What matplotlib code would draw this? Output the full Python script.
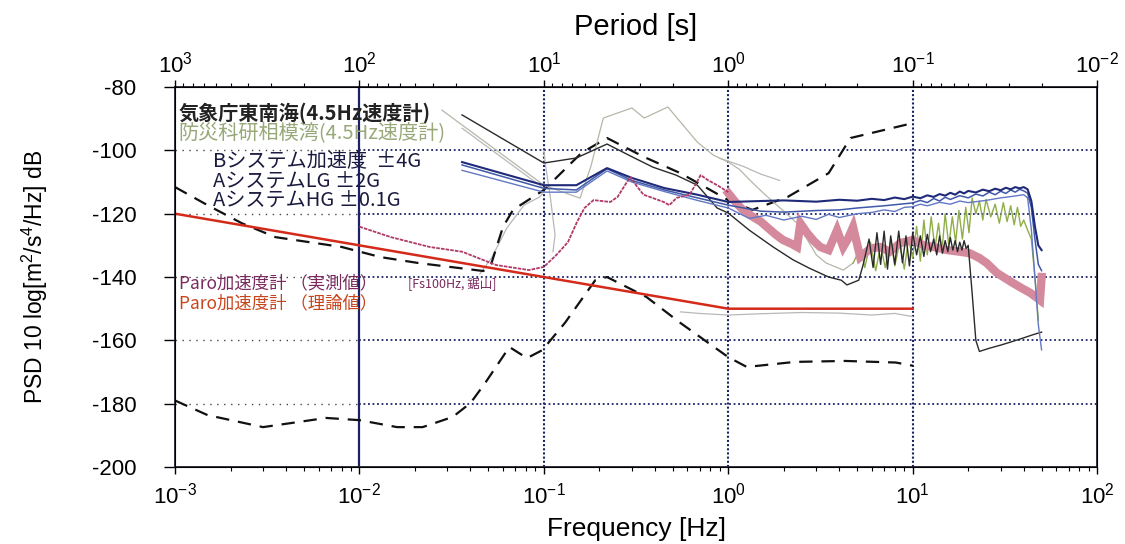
import matplotlib
matplotlib.use("Agg")
import matplotlib.pyplot as plt

plt.rcParams['font.family'] = ['Liberation Sans', 'DejaVu Sans']
plt.rcParams['mathtext.fontset'] = 'custom'
plt.rcParams['mathtext.rm'] = 'Liberation Sans'
plt.rcParams['mathtext.it'] = 'Liberation Sans:italic'
plt.rcParams['mathtext.bf'] = 'Liberation Sans:bold'
plt.rcParams['axes.unicode_minus'] = False
JP = ['Noto Sans CJK JP', 'DejaVu Sans']

# ---- data (frequency [Hz], PSD [dB]) ----
# Paro theory (red)
paro_th_f = [0.001, 0.01, 0.1, 1.0, 10.0]
paro_th_db = [-120, -130, -140, -150, -150]

# Paro measured, low band (thin line)
paro_f = [0.01, 0.0148, 0.024, 0.036, 0.055, 0.083, 0.1, 0.117, 0.135, 0.151, 0.166,
          0.186, 0.229, 0.251, 0.282, 0.295, 0.316, 0.347, 0.447, 0.479, 0.525, 0.617,
          0.676, 0.708, 0.776, 0.871, 1.0]
paro_db = [-124.1, -127.4, -130.5, -132.0, -136.2, -137.8, -136.8, -133.0, -129.0, -122.7,
           -118.2, -115.7, -116.3, -114.7, -110.0, -108.4, -111.0, -114.0, -116.3, -117.3,
           -115.0, -114.0, -110.0, -107.8, -109.4, -111.0, -113.2]

# Paro measured, high band (thick pink)
paro_hi_f = [1.0, 1.1, 1.2, 1.36, 1.5, 1.62, 1.8, 1.98, 2.2, 2.36, 2.46, 2.67, 2.9, 3.15,
             3.5, 3.89, 4.2, 4.45, 4.75, 5.19, 5.9, 6.65, 7.5, 8.55, 10.0, 11.5, 13.0,
             15.4, 18.0, 20.4, 23.0, 25.2, 28.6, 32.0, 35.0, 39.0, 43.4, 47.0, 49.0, 50.0]
paro_hi_db = [-113.5, -116.5, -118.8, -121.0, -122.5, -124.2, -126.5, -128.3, -129.5, -130.5,
              -123.0, -126.0, -128.5, -130.5, -131.5, -125.2, -130.5, -128.0, -124.2, -133.7,
              -131.0, -130.5, -132.0, -129.3, -128.3, -130.0, -130.5, -131.5, -132.0, -132.5,
              -134.0, -135.6, -138.7, -140.5, -141.9, -143.5, -145.0, -146.5, -147.3, -140.0]

# JMA Tonankai (black)
jma_f = [0.036, 0.1, 0.15, 0.22, 0.3, 0.39, 0.52, 0.68, 0.87, 1.0, 1.3, 1.75, 2.25, 2.75,
         3.5, 4.1, 4.4, 5.1, 5.4, 5.8, 6.1, 6.4, 6.7, 7.0, 7.3, 7.6, 8.0, 8.4, 8.8, 9.2,
         9.6, 10.0, 10.5, 11.0, 11.5, 12.0, 12.5, 13.0, 13.5, 14.0, 14.5, 15.0, 15.5, 16.0,
         16.5, 17.0, 17.5, 18.0, 18.5, 19.0, 19.5, 20.0, 21.0, 22.0, 23.0, 26.0, 30.0, 35.0,
         40.0, 45.0, 50.0]
jma_db = [-88.8, -104.0, -102.4, -98.0, -102.0, -105.3, -107.8, -111.0, -118.2, -119.8,
          -125.2, -130.5, -134.6, -137.2, -140.0, -141.0, -142.5, -141.0, -135.9, -128.0,
          -137.0, -126.0, -136.0, -125.5, -137.5, -127.0, -136.0, -125.5, -135.5, -127.0,
          -136.5, -126.0, -133.0, -127.0, -133.5, -126.5, -132.0, -128.0, -133.0, -127.0,
          -132.5, -128.5, -132.0, -127.5, -131.5, -128.5, -132.0, -129.0, -131.5, -128.5,
          -131.0, -130.0, -145.0, -160.0, -163.5, -162.5, -161.5, -160.3, -159.2, -158.2,
          -157.4]

# NIED Sagami Bay (grey at low frequency, green at high frequency)
nied_lo_f = [0.028, 0.1, 0.157, 0.18, 0.21, 0.3, 0.35, 0.47, 0.68, 0.83, 1.0, 1.15, 1.31,
             1.55, 1.98, 2.36, 2.67, 3.0, 3.4, 4.2, 4.75]
nied_lo_db = [-87.3, -111.0, -115.1, -105.0, -89.8, -86.6, -89.8, -86.3, -97.4, -101.5,
              -103.7, -106.0, -109.4, -113.5, -119.0, -123.0, -128.0, -133.0, -135.6, -137.8,
              -135.6]
nied_hi_f = [4.75, 5.2, 5.5, 5.9, 6.3, 6.7, 7.1, 7.6, 8.0, 8.5, 9.0, 9.5, 10.0, 10.5, 11.0,
             11.5, 12.0, 12.6, 13.2, 13.8, 14.4, 15.0, 15.7, 16.4, 17.1, 17.8, 18.6, 19.4,
             20.2, 21.0, 22.0, 23.0, 24.0, 25.0, 26.5, 28.0, 29.5, 31.0, 32.5, 34.0, 35.5,
             37.0, 38.5, 40.0, 42.0, 44.0, 46.0, 48.0]
nied_hi_db = [-135.6, -131.0, -137.0, -129.0, -138.0, -130.0, -137.0, -128.5, -136.5, -129.0,
              -137.5, -128.0, -134.0, -124.0, -135.0, -122.0, -133.0, -121.0, -131.0, -123.0,
              -132.0, -120.0, -130.0, -121.0, -129.0, -119.0, -128.0, -118.0, -126.0, -115.0,
              -120.0, -116.0, -122.0, -115.5, -121.0, -117.0, -123.0, -116.5, -122.5, -117.5,
              -123.5, -118.0, -124.0, -122.0, -125.2, -128.0, -140.0, -153.6]

# B system accelerometer +-4G (navy)
bsys_f = [0.036, 0.1, 0.15, 0.22, 0.3, 0.45, 0.68, 1.0, 1.5, 2.0, 3.0, 4.0, 5.0, 6.0, 7.0,
          8.0, 9.0, 10.0, 11.0, 12.0, 13.0, 14.0, 15.0, 16.0, 17.0, 18.0, 19.0, 20.0, 22.0,
          24.0, 26.0, 28.0, 30.0, 32.0, 34.0, 36.0, 38.0, 40.0, 42.0, 44.0, 46.0, 48.0, 50.0]
bsys_db = [-103.7, -111.0, -111.0, -105.6, -108.7, -111.9, -114.0, -116.3, -116.0, -115.8,
           -116.2, -115.6, -115.9, -115.3, -115.7, -114.9, -115.4, -114.6, -115.1, -114.2,
           -114.7, -113.8, -114.3, -113.4, -114.0, -113.0, -113.6, -112.8, -113.3, -112.4,
           -112.9, -112.1, -112.6, -111.8, -112.3, -111.6, -112.0, -111.6, -112.3, -116.0,
           -124.0, -130.0, -131.5]

# A system LG +-2G
alg_f = [0.036, 0.1, 0.15, 0.22, 0.3, 0.45, 0.68, 1.0, 1.5, 2.0, 3.0, 4.0, 5.0, 7.0, 10.0,
         11.0, 12.0, 13.0, 14.0, 15.0, 16.0, 18.0, 20.0, 22.0, 24.0, 26.0, 28.0, 30.0, 32.0,
         34.0, 36.0, 38.0, 40.0, 42.0, 44.0, 46.0, 48.0, 50.0]
alg_db = [-104.6, -112.0, -112.5, -105.8, -109.5, -112.5, -115.0, -117.3, -119.2, -119.5,
          -119.0, -118.8, -118.2, -117.5, -116.6, -115.8, -116.5, -115.2, -116.0, -114.8,
          -115.5, -114.3, -115.0, -113.8, -114.4, -113.2, -114.0, -112.9, -113.6, -112.5,
          -113.2, -112.3, -112.8, -113.5, -118.0, -128.0, -136.0, -138.0]

# A system HG +-0.1G
ahg_f = [0.036, 0.1, 0.15, 0.22, 0.3, 0.45, 0.68, 1.0, 1.3, 1.6, 2.0, 2.5, 3.0, 3.5, 4.0,
         5.0, 6.0, 7.0, 8.0, 9.0, 10.0, 11.0, 12.0, 14.0, 16.0, 18.0, 20.0, 25.0, 30.0,
         35.0, 40.0, 42.0, 44.0, 46.0, 48.0, 50.0]
ahg_db = [-106.3, -113.2, -113.2, -106.5, -110.0, -113.0, -115.8, -118.2, -121.5, -120.5,
          -122.0, -120.8, -121.8, -120.2, -121.2, -120.0, -119.6, -118.8, -119.3, -118.0,
          -117.8, -117.0, -117.5, -116.4, -117.0, -116.0, -116.5, -115.8, -115.0, -114.5,
          -114.0, -115.0, -125.0, -140.0, -155.0, -163.0]

# Peterson noise models (dashed)
nhnm_f = [0.001, 0.0015, 0.0023, 0.0035, 0.008, 0.013, 0.021, 0.047, 0.052, 0.06, 0.068,
          0.1, 0.16, 0.22, 0.35, 0.55, 1.0, 1.35, 2.1, 3.5, 4.6, 10.0]
nhnm_db = [-111.6, -117.3, -123.0, -127.4, -130.5, -133.7, -135.6, -138.1, -135.6, -124.2,
           -118.8, -112.5, -100.8, -96.1, -102.1, -107.2, -115.7, -118.8, -114.7, -107.2,
           -96.1, -91.4]
nlnm_f = [0.001, 0.0015, 0.003, 0.0066, 0.01, 0.016, 0.022, 0.032, 0.04, 0.048, 0.065,
          0.081, 0.098, 0.13, 0.19, 0.22, 0.36, 0.55, 1.0, 1.26, 2.3, 4.3, 8.1, 10.0]
nlnm_db = [-179.0, -183.6, -187.4, -184.5, -185.2, -187.4, -187.4, -184.2, -179.8, -173.5,
           -162.1, -165.6, -163.1, -154.5, -141.0, -140.0, -146.3, -154.5, -165.3, -168.4,
           -166.8, -166.5, -167.0, -168.0]

# faint grey traces
grey1_f = [0.036, 0.1]
grey1_db = [-93.0, -112.0]
grey2_f = [0.045, 0.052, 0.063, 0.078, 0.095, 0.1]
grey2_db = [-139.0, -134.0, -124.5, -117.3, -114.7, -113.0]
grey3_f = [0.1, 0.102, 0.108, 0.115, 0.112]
grey3_db = [-100.0, -104.6, -114.1, -126.7, -132.0]
grey4_f = [0.55, 0.7, 1.0, 1.5, 2.5, 4.0, 6.0, 8.0, 10.0]
grey4_db = [-151.0, -151.5, -152.0, -151.6, -151.2, -151.4, -152.0, -151.5, -152.5]
grey5_f = [0.9, 1.2, 1.5, 1.9]
grey5_db = [-102.5, -105.0, -107.5, -109.5]

yticks = [-200, -180, -160, -140, -120, -100, -80]
fticks = [1e-3, 1e-2, 1e-1, 1e0, 1e1, 1e2]
flabels = [r'$10^{-3}$', r'$10^{-2}$', r'$10^{-1}$', r'$10^{0}$', r'$10^{1}$', r'$10^{2}$']
pticks = [1e3, 1e2, 1e1, 1e0, 1e-1, 1e-2]
plabels = [r'$10^{3}$', r'$10^{2}$', r'$10^{1}$', r'$10^{0}$', r'$10^{-1}$', r'$10^{-2}$']

navy = '#1c2266'

fig = plt.figure(figsize=(11.25, 5.44), dpi=100)
ax = fig.add_axes([0.1556, 0.1415, 0.8196, 0.6985])
ax.set_xscale('log')
ax.set_xlim(1e-3, 1e2)
ax.set_ylim(-200, -80)

# grid
ax.hlines(yticks[1:-1], 1e-3, 1e-2, colors='#444444', linestyles=(0, (1, 4)), lw=1.0, zorder=1)
ax.hlines(yticks[1:-1], 1e-2, 1e2, colors=navy, linestyles=(0, (1, 1.5)), lw=1.3, zorder=1)
ax.axvline(1e-2, color=navy, lw=1.6, zorder=1)
for xv in [1e-1, 1e0, 1e1]:
    ax.axvline(xv, color=navy, lw=1.5, ls=(0, (1, 1)), zorder=1)

# faint traces
for gf, gd in [(grey1_f, grey1_db), (grey2_f, grey2_db), (grey3_f, grey3_db),
               (grey4_f, grey4_db), (grey5_f, grey5_db)]:
    ax.plot(gf, gd, color='#b8b8b8', lw=0.9, zorder=2)

# noise models
ax.plot(nhnm_f, nhnm_db, color='#111111', lw=1.6, ls=(0, (6, 4)), zorder=3)
ax.plot(nlnm_f, nlnm_db, color='#111111', lw=1.6, ls=(0, (6, 4)), zorder=3)

# sensors
ax.plot(nied_lo_f, nied_lo_db, color='#b4b8a8', lw=0.9, zorder=3)
ax.plot(nied_hi_f, nied_hi_db, color='#8fae48', lw=1.0, zorder=4)
ax.plot(paro_hi_f, paro_hi_db, color='#d4899c', lw=6, solid_joinstyle='miter', zorder=4)
ax.plot(jma_f, jma_db, color='#2a2a2a', lw=1.0, zorder=5)
ax.plot(ahg_f, ahg_db, color='#6378c4', lw=1.0, zorder=5)
ax.plot(alg_f, alg_db, color='#4058a8', lw=1.1, zorder=5)
ax.plot(bsys_f, bsys_db, color='#1f2a78', lw=1.5, zorder=6)
ax.plot(paro_f, paro_db, color='#b03a68', lw=1.3, ls=(0, (2, 0.6)), zorder=6)
ax.plot(paro_th_f, paro_th_db, color='#d42a1a', lw=1.8, zorder=7)

# axes styling
ax.set_xticks(fticks)
ax.set_xticklabels(flabels, fontsize=16)
ax.set_yticks(yticks)
ax.set_yticklabels([str(v) for v in yticks], fontsize=16)
ax.tick_params(axis='y', direction='out', length=8, width=1.0, pad=20)
ax.tick_params(axis='x', which='major', direction='out', length=5, width=1.0, pad=6)
ax.tick_params(axis='x', which='minor', direction='out', length=3, width=0.8)
for s in ax.spines.values():
    s.set_linewidth(1.3)
    s.set_color('#222233')
ax.set_xlabel('Frequency [Hz]', fontsize=19, labelpad=6)
ax.set_ylabel(r'PSD 10 log[m$^2$/s$^4$/Hz] dB', fontsize=16.5, labelpad=30)

ax2 = ax.twiny()
ax2.set_xscale('log')
ax2.set_xlim(1e3, 1e-2)
ax2.set_xticks(pticks)
ax2.set_xticklabels(plabels, fontsize=16)
ax2.tick_params(axis='x', which='major', direction='out', length=5, width=1.0, pad=2)
ax2.tick_params(axis='x', which='minor', direction='out', length=3, width=0.8)
ax2.set_xlabel('Period [s]', fontsize=21, labelpad=12)

# labels inside the plot
tr = ax.transAxes
ax.text(0.004, 0.932, '気象庁東南海(4.5Hz速度計)', family=JP, fontsize=14.5,
        fontweight='bold', color='#222222', va='center', transform=tr)
ax.text(0.004, 0.879, '防災科研相模湾(4.5Hz速度計)', family=JP, fontsize=14.5,
        color='#98a878', va='center', transform=tr)
ax.text(0.041, 0.805, 'Bシステム加速度  ±4G', family=JP, fontsize=14.5,
        color='#1a1a40', va='center', transform=tr)
ax.text(0.041, 0.753, 'AシステムLG ±2G', family=JP, fontsize=14.5,
        color='#1a1a40', va='center', transform=tr)
ax.text(0.041, 0.703, 'AシステムHG ±0.1G', family=JP, fontsize=14.5,
        color='#1a1a40', va='center', transform=tr)
ax.text(0.004, 0.484, 'Paro加速度計 （実測値）', family=JP, fontsize=12.5,
        color='#7a2a5e', va='center', transform=tr)
ax.text(0.253, 0.482, '[Fs100Hz, 鋸山]', family=JP, fontsize=9,
        color='#7a2a5e', va='center', transform=tr)
ax.text(0.004, 0.430, 'Paro加速度計 （理論値）', family=JP, fontsize=12.5,
        color='#c8451c', va='center', transform=tr)

fig.savefig('out.png', dpi=100)
